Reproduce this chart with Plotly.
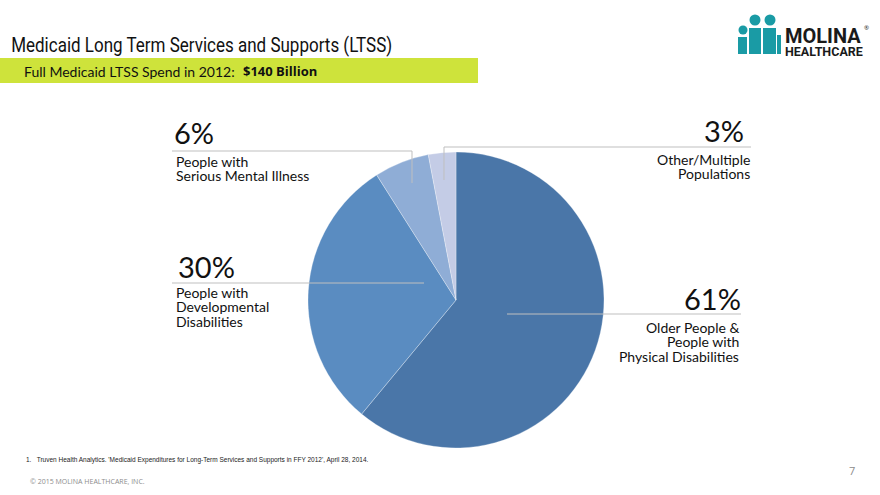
import plotly.graph_objects as go

W, H = 880, 495

# ---- data ----
categories = ["Older People & People with Physical Disabilities",
              "People with Developmental Disabilities",
              "People with Serious Mental Illness",
              "Other/Multiple Populations"]
shares = [61, 30, 6, 3]
slice_colors = ["#4A76A8", "#5A8CC1", "#8FADD6", "#C4CCE6"]

title_text = "Medicaid Long Term Services and Supports (LTSS)"
subtitle_text = "Full Medicaid LTSS Spend in 2012:"
subtitle_value = "$140 Billion"
footnote_text = ("1.   Truven Health Analytics. 'Medicaid Expenditures for Long-Term Services "
                 "and Supports in FFY 2012', April 28, 2014.")
copyright_text = "© 2015 MOLINA HEALTHCARE, INC."
page_number = "7"


def px(x):
    return x / W


def py(y):
    return 1 - y / H


LABEL_FONT = "Lato, Open Sans, sans-serif"
GRAY = "#BFBFBF"

fig = go.Figure()
fig.add_trace(go.Pie(
    labels=categories, values=shares, sort=False, direction="clockwise", rotation=0,
    marker=dict(colors=slice_colors, line=dict(color="white", width=0.3)),
    textinfo="none", hoverinfo="label+percent", showlegend=False,
    domain=dict(x=[px(308), px(604)], y=[py(448), py(152)]),
))

shapes = []
annotations = []

# header band
shapes.append(dict(type="rect", xref="paper", yref="paper", x0=0, x1=px(478),
                   y0=py(83), y1=py(58), fillcolor="#CEE33B", line=dict(width=0), layer="below"))
annotations.append(dict(text=title_text, x=px(9), y=py(45), xanchor="left", yanchor="middle",
                        font=dict(family="Roboto, sans-serif", size=21, color="#111111")))
annotations.append(dict(text=subtitle_text, x=px(22), y=py(71), xanchor="left", yanchor="middle",
                        font=dict(family=LABEL_FONT, size=14, color="#111111")))
annotations.append(dict(text="<b>" + subtitle_value + "</b>", x=px(241), y=py(71), xanchor="left",
                        yanchor="middle", font=dict(family="Open Sans, sans-serif", size=13, color="#111111")))

# leader lines
def line(x0, y0, x1, y1):
    shapes.append(dict(type="line", xref="paper", yref="paper", x0=px(x0), y0=py(y0),
                       x1=px(x1), y1=py(y1), line=dict(color=GRAY, width=1)))

# 6%
line(172, 151, 412, 151)
line(412, 151, 412, 183)
# 3%
line(444, 180, 444, 147)
line(444, 147, 751, 147)
# 30%
line(172, 283, 424, 283)
# 61%
line(507, 314, 741, 314)

def label(pct, lines, x, x_pct, y_pct, y_first, anchor):
    annotations.append(dict(text=pct, x=px(x_pct), y=py(y_pct), xanchor=anchor, yanchor="middle",
                            font=dict(family=LABEL_FONT, size=29, color="#111111")))
    for i, t in enumerate(lines):
        annotations.append(dict(text=t, x=px(x), y=py(y_first + 14.5 * i), xanchor=anchor,
                                yanchor="middle", font=dict(family=LABEL_FONT, size=14, color="#111111")))

label(f"{shares[2]}%", ["People with", "Serious Mental Illness"], 174, 172, 133, 161, "left")
label(f"{shares[3]}%", ["Other/Multiple", "Populations"], 752, 746, 131, 159, "right")
label(f"{shares[1]}%", ["People with", "Developmental", "Disabilities"], 174, 176, 266, 292, "left")
label(f"{shares[0]}%", ["Older People &", "People with", "Physical Disabilities"], 741, 743, 298, 327, "right")

# footer
annotations.append(dict(text=footnote_text, x=px(24), y=py(460), xanchor="left", yanchor="middle",
                        font=dict(family="Liberation Sans, Arial, sans-serif", size=6.5, color="#222222")))
annotations.append(dict(text=copyright_text, x=px(28), y=py(481), xanchor="left", yanchor="middle",
                        font=dict(family="Open Sans, sans-serif", size=7, color="#8C8C8C")))
annotations.append(dict(text=page_number, x=px(852), y=py(470), xanchor="center", yanchor="middle",
                        font=dict(family="Open Sans, sans-serif", size=11, color="#8C8C8C")))

# logo
TEAL = "#1A9BA5"
def circ(cx, cy, r):
    shapes.append(dict(type="circle", xref="paper", yref="paper", x0=px(cx - r), x1=px(cx + r),
                       y0=py(cy + r), y1=py(cy - r), fillcolor=TEAL, line=dict(width=0)))
def rect(x0, y0, x1, y1):
    shapes.append(dict(type="rect", xref="paper", yref="paper", x0=px(x0), x1=px(x1),
                       y0=py(y1), y1=py(y0), fillcolor=TEAL, line=dict(width=0)))
circ(743, 30, 4.5)
circ(755, 20, 5.5)
circ(770, 20, 5.5)
rect(738, 37, 747, 54)
rect(749, 28, 761, 54)
rect(763, 28, 776, 54)
rect(777, 35, 781, 54)
annotations.append(dict(text="<b>MOLINA</b>", x=px(783), y=py(36), xanchor="left", yanchor="middle",
                        font=dict(family="Roboto, sans-serif", size=20, color="#1a1a1a")))
annotations.append(dict(text="®", x=px(862), y=py(28), xanchor="left", yanchor="middle",
                        font=dict(family="Open Sans, sans-serif", size=6, color="#1a1a1a")))
annotations.append(dict(text="<b>HEALTHCARE</b>", x=px(783), y=py(51), xanchor="left", yanchor="middle",
                        font=dict(family="Roboto, sans-serif", size=12.5, color="#1a1a1a")))

for a in annotations:
    a.update(xref="paper", yref="paper", showarrow=False)

fig.update_layout(width=W, height=H, margin=dict(l=0, r=0, t=0, b=0),
                  paper_bgcolor="white", plot_bgcolor="white",
                  shapes=shapes, annotations=annotations)

post = """
document.body.style.margin='0';
document.querySelectorAll('text.annotation-text').forEach(function(t){
  if (t.textContent.indexOf('Medicaid Long Term') === 0) {
    t.style.transformBox = 'fill-box';
    t.style.transformOrigin = 'left center';
    t.style.transform = 'scaleX(0.81)';
  }
});
"""
fig.write_html("out.html", post_script=post, config={"displayModeBar": False})
